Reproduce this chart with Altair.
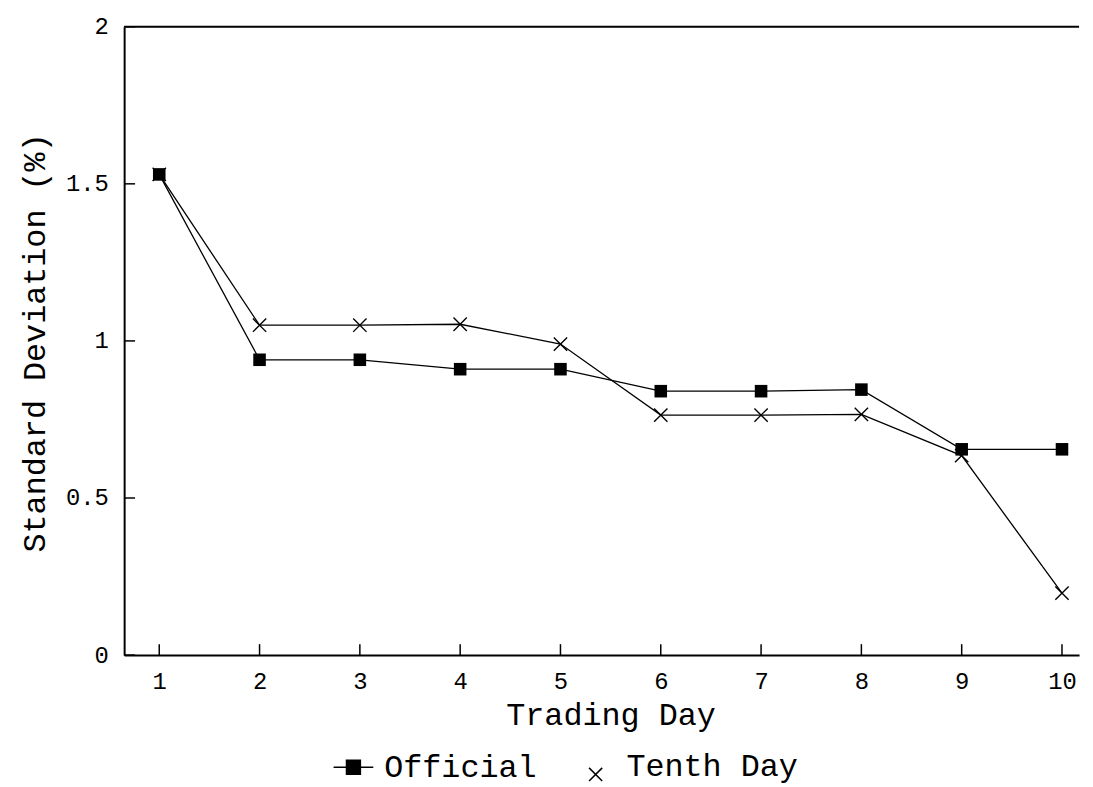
import altair as alt
import pandas as pd

days = [1, 2, 3, 4, 5, 6, 7, 8, 9, 10]
official = [1.53, 0.94, 0.94, 0.91, 0.91, 0.84, 0.84, 0.845, 0.655, 0.655]
tenth_day = [1.53, 1.05, 1.05, 1.053, 0.99, 0.764, 0.764, 0.766, 0.635, 0.197]
series_names = ["Official", "Tenth Day"]
y_ticks = [0, 0.5, 1, 1.5, 2]

rows = []
for d, v in zip(days, official):
    rows.append({"day": d, "sd": v, "series": "Official"})
for d, v in zip(days, tenth_day):
    rows.append({"day": d, "sd": v, "series": "Tenth Day"})
df = pd.DataFrame(rows)

FONT = "Liberation Mono"

x_scale = alt.Scale(domain=[0.65, 10.17], nice=False, zero=False)
y_scale = alt.Scale(domain=[0, 2], nice=False)

x_enc = alt.X(
    "day:Q", scale=x_scale,
    axis=alt.Axis(
        values=days, format="d", title="Trading Day", grid=False,
        tickSize=0, labelPadding=15, labelFontSize=24, labelFont=FONT,
        labelColor="black", domainColor="black", domainWidth=2,
        titleFont=FONT, titleFontSize=32, titleFontWeight="normal", titleColor="black",
        titleX=490, titleY=60, titleBaseline="middle",
    ),
)
y_enc = alt.Y(
    "sd:Q", scale=y_scale,
    axis=alt.Axis(
        values=y_ticks, format="~g", title="Standard Deviation (%)", grid=False,
        tickSize=0, labelPadding=16, labelFontSize=24, labelFont=FONT,
        labelColor="black", domainColor="black", domainWidth=2,
        titleFont=FONT, titleFontSize=32, titleFontWeight="normal", titleColor="black",
        titleX=-90, titleY=318, titleAngle=270, titleAlign="center", titleBaseline="middle",
    ),
)

base = alt.Chart(df)

lines = base.mark_line(color="black", strokeWidth=1.3).encode(
    x=x_enc, y=y_enc, detail="series:N"
)

squares = base.transform_filter(alt.datum.series == "Official").mark_point(
    shape="square", filled=True, color="black", size=160, opacity=1
).encode(x="day:Q", y="sd:Q")

crosses = base.transform_filter(alt.datum.series == "Tenth Day").mark_point(
    shape="M-1,-1L1,1M-1,1L1,-1", filled=False, color="black", size=180,
    strokeWidth=1.4, opacity=1
).encode(x="day:Q", y="sd:Q")

legend_layer = base.mark_point(
    filled=True, fill="black", stroke="black", strokeWidth=1.5, opacity=0
).encode(
    x="day:Q", y="sd:Q",
    shape=alt.Shape(
        "series:N",
        scale=alt.Scale(
            domain=series_names,
            range=[
                "M-1,0H1M-0.35,-0.35H0.35V0.35H-0.35Z",
                "M-0.33,0.07L0.33,0.73M-0.33,0.73L0.33,0.07",
            ],
        ),
        legend=alt.Legend(
            title=None, orient="none", legendX=210, legendY=724, padding=0,
            direction="horizontal", symbolSize=1600, symbolOpacity=1,
            symbolStrokeWidth=1.5,
            labelFont=FONT, labelFontSize=32, labelColor="black", labelLimit=500,
            labelOffset=10, columnPadding=38, symbolLimit=0,
        ),
    ),
)

# top border
top_rule = alt.Chart(pd.DataFrame({"v": [2]})).mark_rule(color="black", strokeWidth=2).encode(
    y=alt.Y("v:Q", scale=y_scale)
)

# inward ticks
y_tick_df = pd.DataFrame({"v": y_ticks})
y_tick_marks = alt.Chart(y_tick_df).mark_rule(color="black", strokeWidth=1.5).encode(
    y=alt.Y("v:Q", scale=y_scale), x=alt.value(0), x2=alt.value(11)
)
x_tick_df = pd.DataFrame({"d": days})
x_tick_marks = alt.Chart(x_tick_df).mark_rule(color="black", strokeWidth=1.5).encode(
    x=alt.X("d:Q", scale=x_scale), y=alt.value(633), y2=alt.value(622)
)

chart = alt.layer(
    lines, top_rule, y_tick_marks, x_tick_marks, squares, crosses, legend_layer
).properties(
    width=962, height=633,
    autosize=alt.AutoSizeParams(type="none"),
    padding={"left": 117, "top": 16, "right": 6, "bottom": 130},
).configure_view(strokeWidth=0)

chart.save("out.html", embed_options={"renderer": "svg", "actions": False})
